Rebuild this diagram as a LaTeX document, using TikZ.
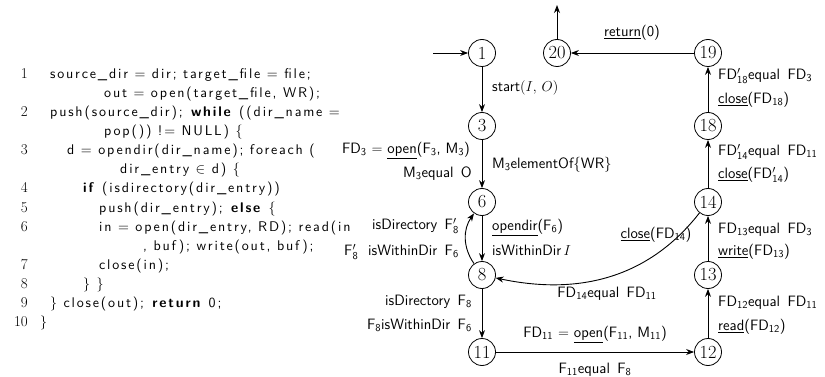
\documentclass[tikz,border=0pt]{standalone}
\usepackage{fontspec}
\usetikzlibrary{arrows.meta}
% spaced sans face for the program listing
\newfontfamily\codefont[LetterSpace=13,BoldFont=lmsans10-bold.otf]{lmsans10-regular.otf}
\newcommand\sbs[1]{$_{\mathsf{#1}}$}
\newcommand\prs[1]{$'_{\mathsf{#1}}$}
\tikzset{
  state/.style={circle,draw,line width=0.8pt,minimum size=27pt,inner sep=0.5pt,
    font=\fontsize{18.5}{20}\selectfont},
  flow/.style={draw,line width=0.9pt,-{Stealth[length=8pt,width=6pt]}},
  lbl/.style={inner sep=0pt,font=\fontsize{15}{17}\sffamily,text height=11pt,text depth=4pt},
  code/.style={inner sep=0pt,anchor=base west,font=\fontsize{14}{16}\codefont},
  lnum/.style={inner sep=0pt,anchor=base east,font=\fontsize{15}{17}\selectfont},
}
\begin{document}
\begin{tikzpicture}[x=1pt,y=-1pt]
\useasboundingbox (0,0) rectangle (825,377);

% ---- program listing ----
\node[lnum] (n1) at (28,79) {1};
\node[code] (c1) at (50,79) {source\_dir = dir; target\_file = file;};
\node[code] (c1b) at (104,98) {out = open(target\_file, WR);};
\node[lnum] (n2) at (28,117) {2};
\node[code] (c2) at (50,117) {push(source\_dir); \textbf{while} ((dir\_name =};
\node[code] (c2b) at (104,136) {pop()) != NULL) \{};
\node[lnum] (n3) at (28,155) {3};
\node[code] (c3) at (67,155) {d = opendir(dir\_name); foreach (};
\node[code] (c3b) at (120,174) {dir\_entry $\in$ d) \{};
\node[lnum] (n4) at (28,193) {4};
\node[code] (c4) at (83,193) {\textbf{if} (isdirectory(dir\_entry))};
\node[lnum] (n5) at (28,212) {5};
\node[code] (c5) at (99,212) {push(dir\_entry); \textbf{else} \{};
\node[lnum] (n6) at (28,231) {6};
\node[code] (c6) at (99,231) {in = open(dir\_entry, RD); read(in};
\node[code] (c6b) at (143,250) {, buf); write(out, buf);};
\node[lnum] (n7) at (28,269) {7};
\node[code] (c7) at (99,269) {close(in);};
\node[lnum] (n8) at (28,288) {8};
\node[code] (c8) at (83,288) {\} \}};
\node[lnum] (n9) at (28,307) {9};
\node[code] (c9) at (50,307) {\} close(out); \textbf{return} 0;};
\node[lnum] (n10) at (28,326) {10};
\node[code] (c10) at (40,326) {\}};

% ---- states ----
\node[state] (s1)  at (482,53)  {1};
\node[state] (s20) at (557,53)  {20};
\node[state] (s19) at (708,53)  {19};
\node[state] (s3)  at (482,126) {3};
\node[state] (s18) at (708,126) {18};
\node[state] (s6)  at (482,202) {6};
\node[state] (s14) at (708,202) {14};
\node[state] (s8)  at (482,275) {8};
\node[state] (s13) at (708,275) {13};
\node[state] (s11) at (482,352) {11};
\node[state] (s12) at (708,352) {12};
\coordinate (in1) at (433,53);
\coordinate (out20) at (557,5);

% ---- transitions ----
\draw[flow] (in1) -- (s1);
\draw[flow] (s20) -- (out20);
\draw[flow] (s1) -- (s3);
\draw[flow] (s3) -- (s6);
\draw[flow] (s6) -- (s8);
\draw[flow] (s8) to[bend left=35] (s6);
\draw[flow] (s8) -- (s11);
\draw[flow] (s11) -- (s12);
\draw[flow] (s12) -- (s13);
\draw[flow] (s13) -- (s14);
\draw[flow] (s14) to[out=-128,in=-12] (s8);
\draw[flow] (s14) -- (s18);
\draw[flow] (s18) -- (s19);
\draw[flow] (s19) -- (s20);

% ---- transition labels ----
\node[lbl,anchor=west] (t1) at (492,88) {start$(I,\,O)$};
\node[lbl,anchor=east] (t3a) at (470,150) {FD\sbs{3} $=$ \underline{open}(F\sbs{3}, M\sbs{3})};
\node[lbl,anchor=east] (t3b) at (472,174) {M\sbs{3}equal\, O};
\node[lbl,anchor=west] (t3c) at (492,165) {M\sbs{3}elementOf\{WR\}};
\node[lbl,anchor=west] (t6a) at (492,227) {\underline{opendir}(F\sbs{6})};
\node[lbl,anchor=west] (t6b) at (492,252) {isWithinDir$\,I$};
\node[lbl,anchor=east] (t8a) at (459,226) {isDirectory\, F\prs{8}};
\node[lbl,anchor=east] (t8b) at (459,252) {F\prs{8}\,\, isWithinDir\, F\sbs{6}};
\node[lbl,anchor=east] (t11a) at (472,302) {isDirectory\, F\sbs{8}};
\node[lbl,anchor=east] (t11b) at (472,326) {F\sbs{8}isWithinDir\, F\sbs{6}};
\node[lbl] (t12a) at (595,334) {FD\sbs{11} $=$ \underline{open}(F\sbs{11}, M\sbs{11})};
\node[lbl] (t12b) at (595,370) {F\sbs{11}equal\, F\sbs{8}};
\node[lbl] (t14a) at (656,235) {\underline{close}(FD\sbs{14})};
\node[lbl] (t14b) at (607,294) {FD\sbs{14}equal\, FD\sbs{11}};
\node[lbl,anchor=west] (t13a) at (718,303) {FD\sbs{12}equal\, FD\sbs{11}};
\node[lbl,anchor=west] (t13b) at (718,327) {\underline{read}(FD\sbs{12})};
\node[lbl,anchor=west] (t14c) at (718,230) {FD\sbs{13}equal\, FD\sbs{3}};
\node[lbl,anchor=west] (t14d) at (718,252) {\underline{write}(FD\sbs{13})};
\node[lbl,anchor=west] (t18a) at (718,152) {FD\prs{14}equal\, FD\sbs{11}};
\node[lbl,anchor=west] (t18b) at (718,175) {\underline{close}(FD\prs{14})};
\node[lbl,anchor=west] (t19a) at (718,76) {FD\prs{18}equal\, FD\sbs{3}};
\node[lbl,anchor=west] (t19b) at (718,100) {\underline{close}(FD\sbs{18})};
\node[lbl] (t20) at (632,33) {\underline{return}(0)};
\end{tikzpicture}
\end{document}
